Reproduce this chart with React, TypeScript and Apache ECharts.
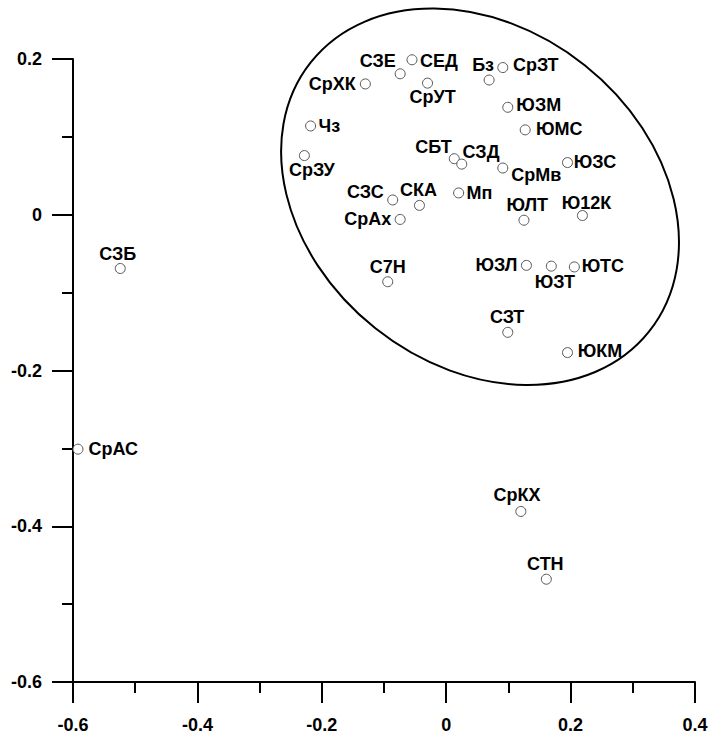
import React, { useEffect, useRef } from "react";
import * as echarts from "echarts";

const names = ["СЕД", "СЗЕ", "СрХК", "СрУТ", "Бз", "СрЗТ", "ЮЗМ", "ЮМС", "Чз", "СрЗУ", "СБТ", "СЗД", "СрМв", "ЮЗС", "СЗС", "СКА", "Мп", "ЮЛТ", "Ю12К", "СрАх", "С7Н", "ЮЗЛ", "ЮЗТ", "ЮТС", "СЗТ", "ЮКМ", "СЗБ", "СрАС", "СрКХ", "СТН"];
const xValues = [-0.055, -0.074, -0.130, -0.030, 0.069, 0.091, 0.099, 0.127, -0.218, -0.228, 0.013, 0.025, 0.091, 0.195, -0.086, -0.043, 0.020, 0.125, 0.219, -0.074, -0.094, 0.129, 0.169, 0.206, 0.099, 0.195, -0.524, -0.592, 0.120, 0.161];
const yValues = [0.199, 0.181, 0.168, 0.169, 0.173, 0.189, 0.138, 0.109, 0.114, 0.076, 0.072, 0.065, 0.060, 0.067, 0.019, 0.012, 0.028, -0.007, -0.001, -0.006, -0.086, -0.065, -0.066, -0.067, -0.151, -0.177, -0.069, -0.301, -0.381, -0.468];

// label placement (pixel offsets of label centre from marker centre)
const labelOffsets = [[27, 1.5], [-22.5, -12.5], [-33, 0], [5, 14], [-6, -15], [33, -2.5], [31, -2.3], [34, -0.7], [18.7, 0.3], [7.4, 14.3], [-20.7, -12], [19.3, -12.5], [33.5, 7], [27.5, -1], [-27.3, -7.5], [-1, -15], [20.7, 0], [3.4, -15], [4, -13], [-32.5, 0], [0, -14.7], [-30, 0], [3.5, 15.5], [28.5, -1], [-0.6, -15], [32.5, -1.5], [-2.5, -14.2], [35.3, 0.3], [-3.8, -16], [-1, -15.7]];

// cluster ellipse centre in data units
const ellipseCenter = [0.0544, 0.0231];

const xTicks = { min: -0.6, max: 0.4, interval: 0.2 };
const yTicks = { min: -0.6, max: 0.2, interval: 0.2 };

const FONT = '"Liberation Sans", Arial, sans-serif';

export default function App() {
  const ref = useRef<HTMLDivElement>(null);
  useEffect(() => {
    if (!ref.current) return;
    const chart = echarts.init(ref.current, null, { renderer: "svg" });
    const fmt = (v: number) => (Math.abs(v) < 1e-9 ? "0" : v.toFixed(1));
    const axisCommon = {
      type: "value",
      splitLine: { show: false },
      axisLine: { show: true, onZero: false, lineStyle: { color: "#000", width: 2 } },
      axisTick: { show: true, inside: false, length: 21, lineStyle: { color: "#000", width: 2 } },
      minorTick: { show: true, splitNumber: 2, length: 11, lineStyle: { color: "#000", width: 2 } },
      minorSplitLine: { show: false },
    };
    const data = names.map((n, i) => ({
      name: n,
      value: [xValues[i], yValues[i]],
      label: { offset: labelOffsets[i] },
    }));
    chart.setOption({
      animation: false,
      grid: { left: 73, right: 15, top: 59, bottom: 56, containLabel: false, outerBoundsMode: "none" },
      xAxis: {
        ...axisCommon,
        min: xTicks.min,
        max: xTicks.max,
        interval: xTicks.interval,
        axisLabel: {
          formatter: fmt,
          margin: 34,
          color: "#000",
          fontSize: 18,
          fontWeight: "bold",
          fontFamily: FONT,
          showMinLabel: true,
          showMaxLabel: true,
        },
      },
      yAxis: {
        ...axisCommon,
        min: yTicks.min,
        max: yTicks.max,
        interval: yTicks.interval,
        axisLabel: {
          formatter: fmt,
          margin: 31,
          color: "#000",
          fontSize: 18,
          fontWeight: "bold",
          fontFamily: FONT,
          showMinLabel: true,
          showMaxLabel: true,
        },
      },
      series: [
        {
          type: "custom",
          silent: true,
          clip: false,
          z: 1,
          data: [ellipseCenter],
          renderItem: (params: any, api: any) => {
            const p = api.coord([api.value(0), api.value(1)]);
            return {
              type: "ellipse",
              x: p[0],
              y: p[1],
              rotation: -0.672,
              shape: { cx: 0, cy: 0, rx: 216, ry: 168 },
              style: { fill: "none", stroke: "#000", lineWidth: 2 },
            };
          },
        },
        {
          type: "scatter",
          z: 3,
          symbol: "circle",
          symbolSize: 10,
          itemStyle: { color: "#fff", borderColor: "#555", borderWidth: 1, opacity: 1 },
          label: {
            show: true,
            position: "inside",
            formatter: "{b}",
            color: "#000",
            fontSize: 18,
            fontWeight: "bold",
            fontFamily: FONT,
            textBorderWidth: 0,
          },
          emphasis: { disabled: true },
          data,
        },
      ],
    });
    return () => chart.dispose();
  }, []);
  return (
    <div
      ref={ref}
      style={{ position: "fixed", left: 0, top: 0, width: 710, height: 738, background: "#fff" }}
    />
  );
}
